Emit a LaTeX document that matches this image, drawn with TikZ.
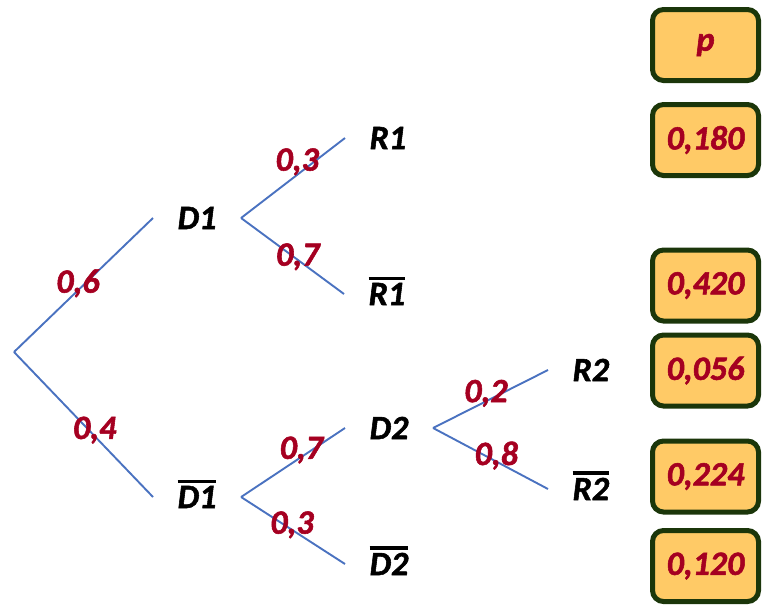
\documentclass[tikz,border=0pt]{standalone}
\usepackage{fontspec}
\setmainfont{Carlito}[BoldItalicFeatures={FakeBold=1.6}]
\definecolor{branch}{HTML}{4A72C0}
\definecolor{prob}{HTML}{A50021}
\definecolor{boxfill}{HTML}{FFCA66}
\definecolor{boxline}{HTML}{1B360A}
\newcommand\ovl[1]{\setbox0\hbox{#1}\rlap{\smash{\raisebox{\dimexpr\ht0+3pt\relax}{\rule{\wd0}{3.4pt}}}}\box0}
\tikzset{
  event/.style={anchor=west, inner xsep=24.5pt, inner ysep=0pt, font=\fontsize{34}{36}\selectfont\bfseries\itshape, text=black},
  branchline/.style={draw=branch, line width=1.9pt},
  plabel/.style={inner sep=0pt, font=\fontsize{34}{36}\selectfont\bfseries\itshape, text=prob},
  pbox/.style={draw=boxline, fill=boxfill, line width=5pt, rounded corners=11pt, minimum width=106pt, minimum height=71pt, inner sep=0pt, font=\fontsize{34}{36}\selectfont\bfseries\itshape, text=prob}
}
\begin{document}
\begin{tikzpicture}[x=1pt,y=-1pt]
\useasboundingbox (0,0) rectangle (763,606);
% tree
\coordinate (root) at (14,352);
\node[event] (D1) at (153,218) {D1};
\node[event] (D1b) at (153,497) {\ovl{D1}};
\node[event] (R1) at (345,138) {R1};
\node[event] (R1b) at (344,294) {\ovl{R1}};
\node[event] (D2) at (345,428) {D2};
\node[event] (D2b) at (345,564) {\ovl{D2}};
\node[event] (R2) at (548,370) {R2};
\node[event] (R2b) at (548,489) {\ovl{R2}};
% branches
\draw[branchline] (root) -- node[plabel, pos=0.46, yshift=7pt] (l06) {0,6} (D1.west);
\draw[branchline] (root) -- node[plabel, pos=0.58, yshift=6pt] (l04) {0,4} (D1b.west);
\draw[branchline] (D1.east) -- node[plabel, pos=0.54, yshift=13pt] (l03a) {0,3} (R1.west);
\draw[branchline] (D1.east) -- node[plabel, pos=0.55, yshift=3pt] (l07a) {0,7} (R1b.west);
\draw[branchline] (D1b.east) -- node[plabel, pos=0.58, yshift=7pt] (l07b) {0,7} (D2.west);
\draw[branchline] (D1b.east) -- node[plabel, pos=0.49, yshift=5pt] (l03b) {0,3} (D2b.west);
\draw[branchline] (D2.east) -- node[plabel, pos=0.46, yshift=8pt] (l02) {0,2} (R2.west);
\draw[branchline] (D2.east) -- node[plabel, pos=0.55, yshift=6pt] (l08) {0,8} (R2b.west);
% probability boxes
\node[pbox] (bp) at (705.5,45) {p};
\node[pbox] (b1) at (705.5,140) {0,180};
\node[pbox] (b2) at (705.5,285.5) {0,420};
\node[pbox] (b3) at (705.5,370.5) {0,056};
\node[pbox] (b4) at (705.5,476.5) {0,224};
\node[pbox] (b5) at (705.5,566) {0,120};
\end{tikzpicture}
\end{document}
